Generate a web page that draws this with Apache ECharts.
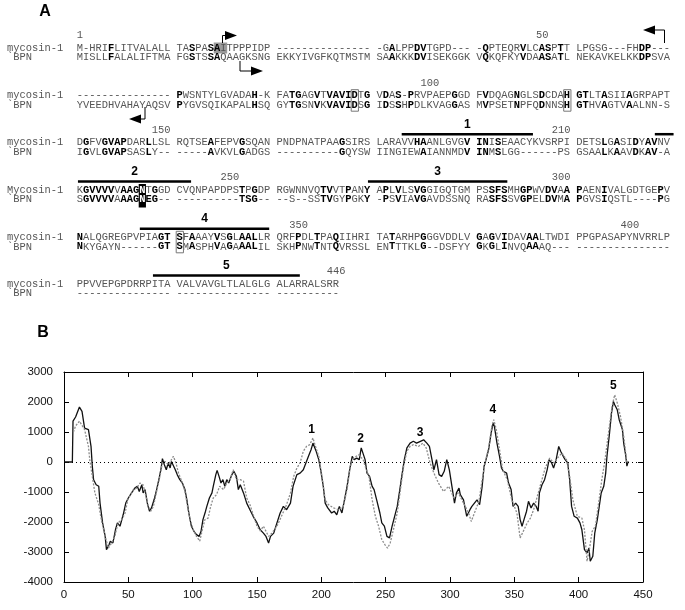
<!DOCTYPE html>
<html>
<head>
<meta charset="utf-8">
<script src="https://cdn.jsdelivr.net/npm/echarts@6/dist/echarts.min.js"></script>
<style>
  html, body { margin: 0; padding: 0; background: #fff; }
  #main { width: 685px; height: 610px; }
</style>
</head>
<body>
<div id="main"></div>
<script>
// Panel A alignment: *...* = bold (conserved), #...# = white on black
const mycosinRows = [
  'M-HRI*F*LITVALALL TA*S*PA*SA*ITPPPIDP --------------- -G*A*LPP*DV*TGPD--- -*Q*PTEQR*V*LC*AS*P*T*T LPGSG---FH*DP*---',
  '--------------- *P*WSNTYLGVADA*H*-K FA*TG*AG*V*T*VAVID*T*G* V*D*A*S*-*P*RVPAEP*G*GD F*V*DQAG*N*GLS*D*CDA*H* *GT*LT*A*SII*A*GRPAPT',
  'D*G*FV*GVAP*DAR*L*LSL RQTSE*A*FEPV*G*SQAN PNDPNATPAA*G*SIRS LARAVV*HA*ANLGVG*V* *IN*I*S*EAACYKVSRPI DETS*L*G*A*SI*D*Y*AV*NV',
  'K*GVVVV*V*AAG*#N#T*G*GD CVQNPAPDPS*T*P*G*DP RGWNNVQ*TV*VT*P*AN*Y* A*P*L*V*LS*VG*GIGQTGM PS*SFS*MH*GP*WV*DV*A*A* *P*AEN*I*VALGDTGE*P*V',
  '*N*ALQGREGPVPIA*GT* *S*F*A*AAY*V*S*G*L*AAL*LR QRF*P*DL*T*PA*Q*IIHRI TA*T*ARHP*G*GGVDDLV *G*A*G*V*I*DAV*AA*LTWDI PPGPASAPYNVRRLP',
  'PPVVEPGPDRRPITA VALVAVGLTLALGLG ALARRALSRR'
];
const bpnRows = [
  'MISLL*F*ALALIFTMA FG*S*TS*SA*QAAGKSNG EKKYIVGFKQTMSTM SA*A*KKK*DV*ISEKGGK V*Q*KQFKY*V*DA*AS*A*T*L NEKAVKELKK*DP*SVA',
  'YVEEDHVAHAYAQSV *P*YGVSQIKAPAL*H*SQ GY*TG*SN*V*K*VAVID*S*G* I*D*S*S*H*P*DLKVAG*G*AS M*V*PSET*N*PFQ*D*NNS*H* *GT*HV*A*GTV*A*ALNN-S',
  'I*G*VL*GVAP*SAS*L*Y-- -----*A*VKVL*G*ADGS ----------*G*QYSW IINGIEW*A*IANNMD*V* *IN*M*S*LGG------PS GSAA*L*K*A*AV*D*K*AV*-A',
  'S*GVVVV*A*AAG*#N#*EG*-- ----------*TSG*-- --S--SS*TV*GY*P*GK*Y* -*P*S*V*IA*VG*AVDSSNQ RA*SFS*SV*GP*EL*DV*M*A* *P*GVS*I*QSTL----*P*G',
  '*N*KYGAYN------*GT* *S*M*A*SPH*V*A*G*A*AAL*IL SKH*P*NW*T*NT*Q*VRSSL EN*T*TTKL*G*--DSFYY *G*K*G*L*I*NVQ*AA*AQ--- ---------------',
  '--------------- --------------- ----------'
];
const rowNames = [
  ['mycosin-1', '`BPN'], ['mycosin-1', '`BPN'], ['mycosin-1', '`BPN'],
  ['Mycosin-1', '`BPN'], ['mycosin-1', '`BPN'], ['mycosin-1', '`BPN']
];
const residueMarks = [1, 50, 100, 150, 210, 250, 300, 350, 400, 446];
// transmembrane segments: alignment row, first and last column
const tmNames = ['1', '', '2', '3', '4', '5'];
const tmRows = [2, 2, 3, 3, 4, 5];
const tmCols = [[52, 73], [92.5, 95.5], [0.2, 18.3], [46.6, 68.9], [10.1, 30.8], [12.2, 35.7]];
// boxed residues: [row, column]
const boxedCells = [[1, 44], [1, 78], [4, 16]];

// Panel B hydropathy profiles: [residue, score]
const mycosinProfile = [
  [0,0],[6.5,0],[7,1360],[9,1500],[12,1830],[14,1690],[16,1130],[19,1080],[21,520],[22,-140],[23,-590],[25,-760],[27,-810],
  [28,-1370],[30,-2030],[32,-2480],[33,-2920],[35,-2760],[36,-2640],[38,-2700],[40,-2260],[41.5,-2030],[43.5,-2140],[46,-1760],
  [48,-1370],[50,-1200],[52.5,-1030],[55,-870],[57,-810],[58.5,-980],[60.5,-760],[61.5,-1030],[63,-920],[65,-1420],[66.5,-1640],
  [68,-1530],[70,-1260],[72,-920],[74,-530],[75.5,-200],[76.5,110],[78,-90],[79.5,-260],[81,-30],[82.5,-200],[83.5,20],[85,-30],
  [86.5,-260],[88,-420],[90,-590],[92,-700],[94,-920],[95.5,-1260],[97,-1700],[99,-2140],[101,-2310],[103,-2420],[105,-2480],
  [106.5,-2310],[108,-1920],[110,-1640],[111,-1480],[113,-1200],[115,-1030],[116,-810],[118,-420],[119,-280],[120.5,-480],
  [122,-700],[123.5,-590],[125,-810],[126.5,-590],[128,-700],[130.5,-420],[132,-310],[134,-480],[135.5,-920],[137,-760],
  [139.5,-1030],[142,-1370],[144.5,-1590],[147,-1810],[150,-2030],[152.5,-2260],[155,-2370],[157,-2480],[159,-2700],[160.5,-2480],
  [163,-2370],[165.5,-2030],[168,-1700],[170.5,-1480],[173,-1590],[176,-1370],[178,-810],[181,-420],[183.5,-370],[186,-260],
  [188,-30],[190,190],[192,410],[193.5,630],[194.5,520],[196,360],[198,80],[199.5,-260],[201.5,-810],[203,-1370],[205,-1530],
  [206.5,-1480],[208,-1700],[210,-1640],[212,-1760],[214,-1480],[216,-1700],[218,-1260],[220,-810],[222,-260],[224,190],
  [225.5,80],[227.5,130],[229.5,80],[231,470],[232.5,410],[234,80],[235.5,-370],[237.5,-480],[239.5,-810],[241,-920],[243,-1260],
  [245.5,-1700],[247,-2030],[249,-2140],[251,-2480],[253,-2530],[255,-2140],[256.5,-2200],[259,-1480],[261,-920],[262.5,-480],
  [264.5,80],[266.5,470],[269,630],[271.5,690],[274,630],[277,690],[279.5,740],[282,630],[284,520],[286,80],[287.5,-260],
  [289.5,80],[291.5,-420],[293.5,-480],[295.5,-310],[297.5,80],[299.5,-260],[301.5,-810],[303.5,-1370],[305,-1030],[307,-870],
  [308,-1090],[310.5,-1260],[313,-1810],[315.5,-1590],[317,-1480],[319,-1370],[321,-1260],[323,-1420],[325,-810],[326.5,-140],
  [328,80],[330,410],[332,970],[333.5,1300],[334.5,1190],[336.5,630],[338.5,190],[340,-200],[341.5,-310],[344,-370],[345.5,-700],
  [347.5,-920],[349,-1480],[351,-1370],[353,-1480],[354.5,-1920],[356,-2140],[357.5,-1920],[359.5,-1640],[361,-1310],[363,-1530],
  [365,-1370],[367,-1480],[368.5,-1640],[369.5,-1030],[371.5,-760],[373.5,-590],[375.5,-260],[377,80],[379,-30],[380.5,-200],
  [382.5,80],[384.5,520],[386,360],[388,190],[389.5,80],[391.5,-30],[393,-590],[394.5,-1480],[396.5,-1810],[399,-1870],
  [401,-2030],[402.5,-2260],[404.5,-2920],[406.5,-3030],[408,-2870],[409,-3310],[411,-3140],[412.5,-2370],[414.5,-1920],
  [416,-1480],[417.5,-1030],[419.5,-810],[421,-370],[422,190],[424,970],[425.5,1630],[427,2020],[428,1910],[430,1740],
  [431.5,1410],[434,1080],[435,630],[436.5,240],[437.5,-140],[438.5,20]
];
const bpnProfile = [
  [7.3,1000],[9,1200],[12,1360],[16,1080],[19,520],[20,80],[22,-480],[24,-1030],[27,-1420],[29,-1920],[32,-2480],[34.5,-2870],
  [37,-2700],[39.5,-2480],[42,-2030],[45,-1920],[47.5,-1700],[49.5,-1260],[51,-1140],[54,-920],[56.5,-870],[59,-700],[61.5,-760],
  [64,-1200],[65.5,-1480],[67.5,-1640],[69.5,-1480],[72,-980],[74.5,-480],[76.5,-30],[78.5,20],[81,-90],[83.5,80],[85,190],
  [87,-30],[89,-370],[91.5,-640],[94,-980],[96,-1480],[98,-1920],[100.5,-2260],[103,-2480],[105.5,-2640],[107.5,-2260],
  [109.5,-1920],[112,-1870],[114,-1480],[116,-1200],[118.5,-1090],[121,-810],[124,-920],[126.5,-700],[129,-590],[131.5,-260],
  [134,-590],[137,-590],[139.5,-640],[142,-1200],[144.5,-1420],[147,-1750],[150,-2140],[152.5,-2300],[155,-2140],[159,-2480],
  [161.5,-2370],[165.5,-2140],[169,-1810],[173,-1420],[176,-1030],[178.5,-480],[181,-200],[183.5,-30],[186,360],[188.5,520],
  [191,580],[193.5,800],[195,580],[198,190],[200.5,-480],[203,-1260],[205.5,-1420],[209.5,-1530],[213.5,-1590],[217,-1480],
  [220,-920],[222.5,-140],[225,130],[229,240],[232.5,80],[234,-140],[237,-480],[239.5,-1260],[242,-1810],[244.5,-2140],
  [247,-2590],[249.5,-2760],[251.5,-2870],[253.5,-2700],[256,-2260],[259,-1700],[261.5,-920],[264,-140],[266.5,360],[269,520],
  [271.5,580],[275.5,520],[279,630],[281.5,470],[284.5,-30],[287.5,-370],[291,-700],[295,-980],[299,-810],[303,-1200],
  [306.5,-1030],[310.5,-1370],[314.5,-1700],[316.5,-1980],[319,-1700],[322.5,-1310],[325,-590],[327.5,20],[330,470],
  [332.5,1190],[334,1410],[336,1080],[338.5,410],[341,-260],[344.5,-590],[348,-1260],[352,-1700],[354.5,-2530],[357.5,-2260],
  [360,-2030],[362.5,-1870],[365,-1590],[367.5,-1200],[370,-810],[374,-200],[377.5,130],[380.5,-30],[383.5,130],[387,300],
  [390.5,80],[393,-480],[395.5,-1260],[399,-1810],[402.5,-1870],[404.5,-2260],[406.5,-3310],[408.5,-2870],[410.5,-2310],
  [413,-2140],[415.5,-1370],[418,-590],[420.5,80],[423.5,1080],[426,1860],[428,2240],[430,1970],[432.5,1520],[435,860],
  [437.5,-30],[439,20]
];
const peakNames = ['1', '2', '3', '4', '5'];
const peakCoords = [[192.5, 1090], [230.6, 790], [276.7, 990], [333.2, 1760], [427, 2530]];

// layout of panel A
const X0 = 76.7, CW = 6.25, FS = 10.42;
const rowY = [48, 95.7, 142.7, 190, 237.3, 284];
const PAIR = 9.5;
const MONO = '"Liberation Mono", "Courier New", monospace';
const SANS = '"Liberation Sans", Arial, sans-serif';

function layer(s, want) {
  let out = '', mode = 'n';
  for (const ch of s) {
    if (ch === '*') { mode = mode === 'b' ? 'n' : 'b'; continue; }
    if (ch === '#') { mode = mode === 'w' ? 'n' : 'w'; continue; }
    out += (mode === want) ? ch : ' ';
  }
  return out;
}

function monoText(str, x, y, fill, weight) {
  return {
    type: 'text', x: x, y: y, silent: true,
    style: { text: str, fill: fill, fontFamily: MONO, fontSize: FS, fontWeight: weight || 'normal',
             textAlign: 'left', verticalAlign: 'middle' }
  };
}

let graphics = [];

// highlights behind text
graphics.push({ type: 'rect', silent: true, shape: { x: X0 + 22 * CW - 0.5, y: 42.5, width: 2 * CW + 1, height: 11 },
  style: { fill: '#9a9a9a' } });
graphics.push({ type: 'rect', silent: true, shape: { x: X0 + 10 * CW - 0.5, y: rowY[3] - 6, width: CW + 1, height: PAIR + 14 },
  style: { fill: '#000' } });

// alignment rows
for (let r = 0; r < mycosinRows.length; r++) {
  const pairs = [[mycosinRows[r], rowY[r]], [bpnRows[r], rowY[r] + PAIR]];
  pairs.forEach(([s, y], k) => {
    graphics.push(monoText(rowNames[r][k], 7, y, '#555'));
    graphics.push(monoText(layer(s, 'n'), X0, y, '#555'));
    graphics.push(monoText(layer(s, 'b'), X0, y, '#000', 'bold'));
    graphics.push(monoText(layer(s, 'w'), X0, y, '#fff', 'bold'));
  });
}

// residue numbers above mycosin rows
let count = 0;
mycosinRows.forEach((s, r) => {
  const plain = s.replace(/[*#]/g, '');
  for (let c = 0; c < plain.length; c++) {
    if (/[A-Z]/.test(plain[c])) {
      count++;
      if (residueMarks.indexOf(count) >= 0) {
        const t = monoText(String(count), X0 + c * CW + CW / 2, rowY[r] - 12.5, '#555');
        t.style.textAlign = 'center';
        graphics.push(t);
      }
    }
  }
});

// boxed residues
boxedCells.forEach(([r, c]) => {
  graphics.push({ type: 'rect', silent: true,
    shape: { x: X0 + c * CW - 0.5, y: rowY[r] - 6, width: CW + 1, height: PAIR + 12 },
    style: { fill: 'none', stroke: '#777', lineWidth: 1 } });
});

// transmembrane bars
tmNames.forEach((name, i) => {
  const y = rowY[tmRows[i]] - 8.5;
  const x1 = X0 + tmCols[i][0] * CW, x2 = X0 + tmCols[i][1] * CW;
  graphics.push({ type: 'line', silent: true, shape: { x1: x1, y1: y, x2: x2, y2: y },
    style: { stroke: '#000', lineWidth: 2.5 } });
  if (name) {
    graphics.push({ type: 'text', silent: true, x: (x1 + x2) / 2, y: y - 10,
      style: { text: name, fill: '#000', fontFamily: SANS, fontSize: 12, fontWeight: 'bold',
               textAlign: 'center', verticalAlign: 'middle' } });
  }
});

// bent arrows marking cleavage sites
function arrow(stem, tip, dir) {
  const [tx, ty] = tip;
  const base = tx - dir * 12;
  graphics.push({ type: 'polyline', silent: true, shape: { points: stem.concat([[base, ty]]) },
    style: { stroke: '#000', lineWidth: 1, fill: null } });
  graphics.push({ type: 'polygon', silent: true, shape: { points: [[tx, ty], [base, ty - 4.5], [base, ty + 4.5]] },
    style: { fill: '#000' } });
}
arrow([[222.5, 43], [222.5, 35.5]], [237, 35.5], 1);
arrow([[240, 61], [240, 71]], [263, 71], 1);
arrow([[664.5, 43], [664.5, 30]], [643, 30], -1);
arrow([[145, 107], [145, 119]], [129, 119], -1);

// panel letters
graphics.push({ type: 'text', silent: true, x: 45, y: 12,
  style: { text: 'A', fill: '#000', fontFamily: SANS, fontSize: 16, fontWeight: 'bold', textAlign: 'center', verticalAlign: 'middle' } });
graphics.push({ type: 'text', silent: true, x: 43, y: 333,
  style: { text: 'B', fill: '#000', fontFamily: SANS, fontSize: 16, fontWeight: 'bold', textAlign: 'center', verticalAlign: 'middle' } });

const chart = echarts.init(document.getElementById('main'));

const axisText = { color: '#111', fontFamily: SANS, fontSize: 11.5, formatter: v => String(v) };
const mirrorAxis = {
  axisLine: { show: true, onZero: false, lineStyle: { color: '#000', width: 1 } },
  axisTick: { show: true, inside: true, length: 5, lineStyle: { color: '#000' } },
  axisLabel: { show: false },
  splitLine: { show: false }
};

chart.setOption({
  animation: false,
  backgroundColor: '#fff',
  grid: { left: 64, right: 42, top: 372, bottom: 28 },
  xAxis: [
    { type: 'value', min: 0, max: 450, interval: 50,
      axisLine: { show: true, onZero: false, lineStyle: { color: '#000', width: 1 } },
      axisTick: { show: true, inside: true, length: 5, lineStyle: { color: '#000' } },
      axisLabel: Object.assign({ margin: 7 }, axisText),
      splitLine: { show: false } },
    Object.assign({ type: 'value', position: 'top', min: 0, max: 450, interval: 50 }, mirrorAxis)
  ],
  yAxis: [
    { type: 'value', min: -4000, max: 3000, interval: 1000,
      axisLine: { show: true, onZero: false, lineStyle: { color: '#000', width: 1 } },
      axisTick: { show: true, inside: true, length: 5, lineStyle: { color: '#000' } },
      axisLabel: Object.assign({ margin: 11 }, axisText),
      splitLine: { show: false } },
    Object.assign({ type: 'value', position: 'right', min: -4000, max: 3000, interval: 1000 }, mirrorAxis)
  ],
  series: [
    { name: 'mycosin-1', type: 'line', data: mycosinProfile, showSymbol: false, z: 3,
      lineStyle: { color: '#111', width: 1.3 },
      markLine: { silent: true, symbol: 'none', data: [{ yAxis: 0 }], label: { show: false },
        lineStyle: { color: '#000', width: 1, type: [1, 3] } },
      markPoint: { symbol: 'circle', symbolSize: 0,
        data: peakNames.map((n, i) => ({ name: n, coord: peakCoords[i] })),
        label: { show: true, position: 'inside', formatter: '{b}', color: '#000',
                 fontFamily: SANS, fontSize: 12, fontWeight: 'bold' } } },
    { name: 'BPN', type: 'line', data: bpnProfile, showSymbol: false, z: 4,
      lineStyle: { color: '#8c8c8c', width: 1.3, type: [2, 1.5] } }
  ],
  graphic: graphics
});
</script>
</body>
</html>
